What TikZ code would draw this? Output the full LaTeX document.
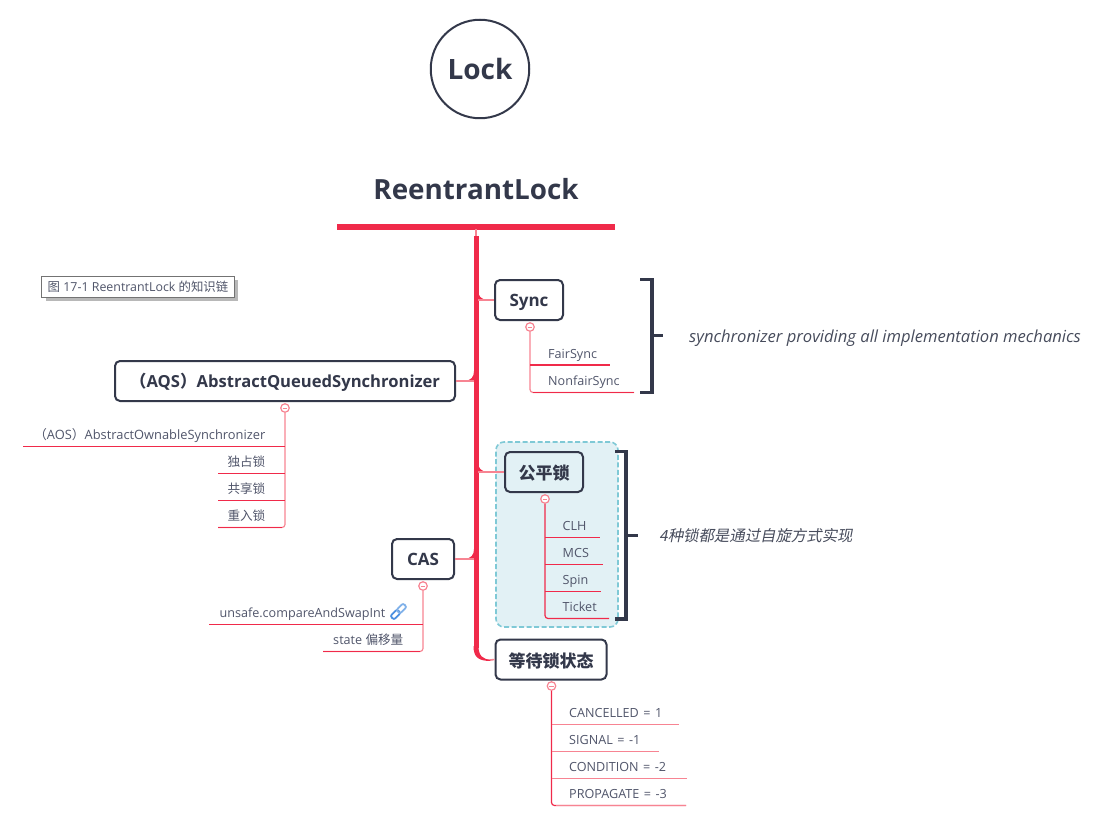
\documentclass[tikz,border=0pt]{standalone}
\usepackage{fontspec}
\setmainfont{Open Sans}
\newfontfamily\cjk{Noto Sans CJK SC}
\newfontfamily\cjkit[FakeSlant=0.2]{Noto Sans CJK SC}
\newcommand{\fs}[1]{\fontsize{#1}{#1}\selectfont}
\newcommand{\eqs}{\hspace{4.5pt}=\hspace{4.5pt}}
\definecolor{ink}{HTML}{33384A}
\definecolor{leaf}{HTML}{50556A}
\definecolor{redm}{HTML}{F02A4A}
\definecolor{pinkm}{HTML}{F78492}
\definecolor{boxfill}{HTML}{E2F1F5}
\definecolor{boxdash}{HTML}{7FC9D6}
\definecolor{linkblue}{HTML}{4A8FE0}
\tikzset{
  x=1pt,y=-1pt,
  topicbox/.style={draw=ink,line width=2pt,rounded corners=5pt,fill=white,inner sep=0pt,text=ink,font=\fs{17}\bfseries,align=center,text height=13pt,text depth=1pt},
  leafw/.style={anchor=west,inner sep=0pt,text=leaf,font=\fs{12.6},text height=9pt,text depth=0pt},
  leafe/.style={anchor=east,inner sep=0pt,text=leaf,font=\fs{12.6},text height=9pt,text depth=0pt},
  minusc/.style={circle,draw=pinkm,line width=1.2pt,fill=white,minimum size=8.5pt,inner sep=0pt},
  minusb/.style={draw=pinkm,line width=1pt},
  under/.style={draw=redm,line width=1.2pt},
  stem/.style={draw=pinkm,line width=1.2pt,rounded corners=3pt},
  bond/.style={draw=pinkm,line width=1.6pt},
  brace/.style={draw=ink,line width=3.6pt},
  note/.style={inner sep=0pt,text=ink!90!white},
}
\newcommand{\minusat}[3]{\node[minusc] (#1) at (#2,#3) {};\draw[minusb] ([xshift=-2.4pt]#1.center) -- ([xshift=2.4pt]#1.center);}
\begin{document}
\begin{tikzpicture}
\useasboundingbox (0,0) rectangle (1105,821);

% central topic
\node[circle,draw=ink,line width=2pt,minimum size=98.5pt,inner sep=0pt,text=ink,font=\fs{28}\bfseries] (lock) at (480,69) {Lock};
\node[inner sep=0pt,text=ink,font=\fs{27.8}\bfseries] (title) at (476,189) {ReentrantLock};
\coordinate (barL) at (337,226.5);
\coordinate (barR) at (614.5,226.5);
\draw[redm,line width=6pt] (barL) -- (barR);

% caption
\fill[black!28] (45.5,280) rectangle (237.5,300.5);
\node[draw=black!55,line width=1pt,fill=white,minimum width=193pt,minimum height=21pt,inner sep=0pt,text=leaf,font=\fs{12.4}] (cap) at (138,286.5) {{\cjk 图} 17-1 ReentrantLock {\cjk 的知识链}};

% spine
\coordinate (barM) at (476,229);
\coordinate (sp0) at (476,236);
\coordinate (sp1) at (476,648);
\draw[bond] (barM) -- (sp0);
\draw[redm,line width=5pt] (sp0) -- (sp1);
\fill[redm] (473.5,646) .. controls (473.5,657) and (478,661) .. (491,661) -- (491,659.6) .. controls (483,659.6) and (478.5,656) .. (478.5,646) -- cycle;

% wedges at branch points
\fill[redm] (478,290) .. controls (478,296) and (481,299.4) .. (487,299.8) -- (478,301) -- cycle;
\fill[redm] (478,462) .. controls (478,468) and (481,471.4) .. (487,471.8) -- (478,473) -- cycle;
\fill[redm] (474,371) .. controls (474,377) and (471,380.4) .. (465,380.8) -- (474,382) -- cycle;
\fill[redm] (474,549) .. controls (474,555) and (471,558.4) .. (465,558.8) -- (474,560) -- cycle;

% dashed boundary
\node[draw=boxdash,fill=boxfill,line width=1.6pt,dash pattern=on 5pt off 2.5pt,rounded corners=8pt,minimum width=122pt,minimum height=185pt,inner sep=0pt] (bound) at (557,534.5) {};

% main topics
\node[topicbox,minimum width=340pt,minimum height=40pt,font=\fs{16.6}\bfseries] (aqs) at (285,381) {{\cjk （}AQS{\cjk ）}AbstractQueuedSynchronizer};
\node[topicbox,minimum width=68pt,minimum height=40pt] (sync) at (529,300) {Sync};
\node[topicbox,minimum width=78pt,minimum height=40pt,fill=boxfill] (fair) at (544,472) {\raisebox{-1.5pt}{\cjk\bfseries 公平锁}};
\node[topicbox,minimum width=62pt,minimum height=40pt] (cas) at (423,559) {CAS};
\node[topicbox,minimum width=111pt,minimum height=40pt] (wait) at (551,659.5) {\raisebox{-1.5pt}{\cjk\bfseries 等待锁状态}};

% main branch bonds
\coordinate (spS) at (478,300);
\coordinate (spF) at (478,472);
\coordinate (spA) at (474,381);
\coordinate (spC) at (474,559);
\coordinate (spW) at (490,660);
\draw[bond] (spS) -- (sync.west);
\draw[bond] (spF) -- (fair.west);
\draw[bond] (spA) -- (aqs.east);
\draw[bond] (spC) -- (cas.east);
\draw[bond] (spW) -- (wait.west);

% Sync children
\minusat{ms}{530}{327}
\coordinate (fsA) at (530,365); \coordinate (fsB) at (610,365);
\coordinate (nsA) at (530,392.5); \coordinate (nsB) at (634,392.5);
\draw[stem] (ms.south) |- (nsB);
\draw[under] (fsA) -- (fsB);
\draw[under] (nsA) ++(3,0) -- (nsB);
\node[leafw] (fs) at (548,354) {FairSync};
\node[leafw] (ns) at (548,381) {NonfairSync};

% AQS children
\minusat{ma}{285}{408}
\coordinate (a1) at (23,446.5); \coordinate (a1e) at (285,446.5);
\coordinate (a2) at (218,473.5); \coordinate (a2e) at (285,473.5);
\coordinate (a3) at (218,500.5); \coordinate (a3e) at (285,500.5);
\coordinate (a4) at (218,527.5);
\draw[stem] (ma.south) |- (a4);
\draw[under] (a1) -- (a1e);
\draw[under] (a2) -- (a2e);
\draw[under] (a3) -- (a3e);
\draw[under] (a4) -- ++(64,0);
\node[leafe,font=\fs{12.85}] (t1) at (265.5,435) {{\cjk （}AOS{\cjk ）}AbstractOwnableSynchronizer};
\node[leafe,font=\fs{12.6}\cjk] (t2) at (265.5,462) {独占锁};
\node[leafe,font=\fs{12.6}\cjk] (t3) at (265.5,489) {共享锁};
\node[leafe,font=\fs{12.6}\cjk] (t4) at (265.5,516) {重入锁};

% fair children
\minusat{mf}{545}{499}
\coordinate (f1) at (545,537.5); \coordinate (f1e) at (600,537.5);
\coordinate (f2) at (545,564.5); \coordinate (f2e) at (603,564.5);
\coordinate (f3) at (545,591.5); \coordinate (f3e) at (601,591.5);
\coordinate (f4e) at (609,618.5);
\draw[stem,draw=redm] (mf.south) |- (f4e);
\draw[under] (f1) -- (f1e);
\draw[under] (f2) -- (f2e);
\draw[under] (f3) -- (f3e);
\node[leafw] (clh) at (562.5,526) {CLH};
\node[leafw] (mcs) at (562.5,553) {MCS};
\node[leafw] (spin) at (562.5,580) {Spin};
\node[leafw] (tick) at (562.5,607) {Ticket};

% CAS children
\minusat{mc}{423}{586}
\coordinate (c1) at (209,624.5); \coordinate (c1e) at (423,624.5);
\coordinate (c2) at (323,651.5);
\draw[stem] (mc.south) |- (c2);
\draw[under] (c1) -- (c1e);
\draw[under] (c2) -- ++(97,0);
\node[leafe] (un) at (385.5,613) {unsafe.compareAndSwapInt};
\node[leafe] (st) at (403.5,640) {state {\cjk 偏移量}};
\begin{scope}[shift={(398.5,611.5)},rotate=45]
  \draw[linkblue,line width=1.8pt,rounded corners=2pt] (-9,-2.6) rectangle (0.5,2.6);
  \draw[linkblue!70!white,line width=1.8pt,rounded corners=2pt] (-0.5,-2.6) rectangle (9,2.6);
\end{scope}

% wait children
\minusat{mw}{551.5}{686}
\coordinate (w1) at (551.5,724.5); \coordinate (w1e) at (679,724.5);
\coordinate (w2) at (551.5,751.5); \coordinate (w2e) at (659,751.5);
\coordinate (w3) at (551.5,778.5); \coordinate (w3e) at (687,778.5);
\coordinate (w4e) at (686,805.5);
\draw[stem,draw=redm] (mw.south) |- (w4e);
\draw[under,draw=pinkm] (w1) -- (w1e);
\draw[under,draw=pinkm] (w2) -- (w2e);
\draw[under,draw=pinkm] (w3) -- (w3e);
\draw[under,draw=pinkm] (w4e) -- ++(-130,0);
\node[leafw] (w1t) at (569,713) {CANCELLED\eqs 1};
\node[leafw] (w2t) at (569,740) {SIGNAL\eqs -1};
\node[leafw] (w3t) at (569,767) {CONDITION\eqs -2};
\node[leafw] (w4t) at (569,794) {PROPAGATE\eqs -3};

% summary braces
\coordinate (b1a) at (640,279.5); \coordinate (b1b) at (652,279.5); \coordinate (b1c) at (652,392.5); \coordinate (b1d) at (640,392.5);
\coordinate (b1m) at (652,335.5); \coordinate (b1s) at (663,335.5);
\draw[brace] (b1a) -- (b1b) -- (b1c) -- (b1d);
\draw[brace] (b1m) -- (b1s);
\node[note,anchor=west,font=\fs{16.6}\itshape,text height=9pt,text depth=0pt] (n1) at (689,337.5) {synchronizer providing all implementation mechanics};
\coordinate (b2a) at (615,451.5); \coordinate (b2b) at (626,451.5); \coordinate (b2c) at (626,619); \coordinate (b2d) at (615,619);
\coordinate (b2m) at (626,535.5); \coordinate (b2s) at (638,535.5);
\draw[brace] (b2a) -- (b2b) -- (b2c) -- (b2d);
\draw[brace] (b2m) -- (b2s);
\node[note,anchor=west,font=\fs{15.4}\cjkit] (n2) at (659,536) {4种锁都是通过自旋方式实现};
\end{tikzpicture}
\end{document}
